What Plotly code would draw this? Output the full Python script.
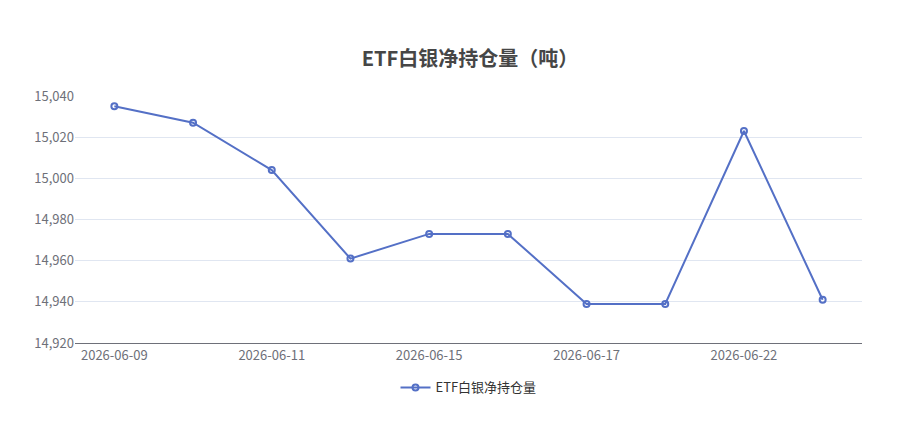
import plotly.graph_objects as go

dates = ["2026-06-09","2026-06-10","2026-06-11","2026-06-12","2026-06-15","2026-06-16","2026-06-17","2026-06-18","2026-06-22","2026-06-23"]
holdings = [15035, 15027, 15004, 14961, 14973, 14973, 14939, 14939, 15023, 14941]
tick_vals = [14920, 14940, 14960, 14980, 15000, 15020, 15040]
tick_text = ["14,920","14,940","14,960","14,980","15,000","15,020","15,040"]
shown_dates = dates[0::2]

fig = go.Figure(go.Scatter(
    x=dates, y=holdings, mode="lines+markers", name="ETF白银净持仓量",
    line=dict(color="#5470c6", width=2),
    marker=dict(symbol="circle-open", size=6, color="#5470c6", line=dict(width=2)),
))
fig.update_layout(
    width=924, height=421, paper_bgcolor="white", plot_bgcolor="white",
    margin=dict(l=67, r=70, t=88, b=86),
    font=dict(family="Noto Sans CJK SC, sans-serif", size=13, color="#6e7079"),
    title=dict(text="<b>ETF白银净持仓量（吨）</b>", x=0.5, xanchor="center", y=0.88, yanchor="middle",
               font=dict(size=20, color="#464646")),
    xaxis=dict(type="category", tickmode="array", tickvals=shown_dates, ticktext=shown_dates,
               showgrid=False, showline=True, linecolor="#6e7079", ticks="", range=[-0.5, 9.5]),
    yaxis=dict(range=[14920, 15040], tickvals=tick_vals, ticktext=tick_text,
               gridcolor="#e0e6f1", zeroline=False, showline=False, ticks=""),
    showlegend=True,
    legend=dict(orientation="h", x=0.5, xanchor="center", y=-0.18, yanchor="middle",
                font=dict(size=13, color="#333")),
)
fig.write_html("out.html")
